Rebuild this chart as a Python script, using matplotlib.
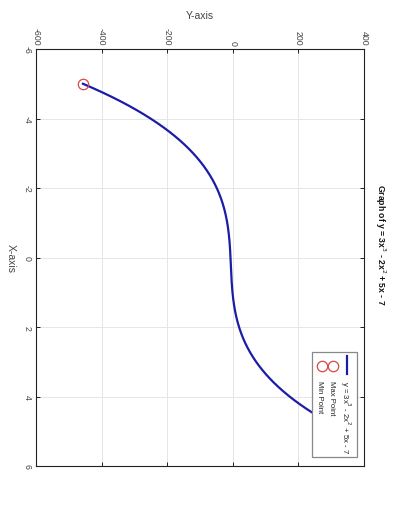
import numpy as np
import matplotlib
matplotlib.use("Agg")
import matplotlib.pyplot as plt
from matplotlib.patches import Rectangle
from matplotlib.lines import Line2D

plt.rcParams['font.family'] = ['Liberation Sans', 'DejaVu Sans']
plt.rcParams['axes.unicode_minus'] = False

# data
x_vals = np.linspace(-5, 5, 400)
coeffs = [3, -2, 5, -7]
y_vals = np.polyval(coeffs, x_vals)
max_x = [5.0]
max_y = [float(np.polyval(coeffs, 5.0))]
min_x = [-5.0]
min_y = [float(np.polyval(coeffs, -5.0))]
yticks = [-600, -400, -200, 0, 200, 400]
xticks = [-6, -4, -2, 0, 2, 4, 6]
title = "Graph of y = 3x$^3$ - 2x$^2$ + 5x - 7"
legend_labels = ["y = 3x$^3$ - 2x$^2$ + 5x - 7", "Max Point", "Min Point"]

W, H = 396, 506
fig = plt.figure(figsize=(W / 100, H / 100), dpi=100)

def fx(px):
    return px / W

def fy(py):
    return 1 - py / H

LINE_C = '#1c1ca8'
MARK_C = '#d84848'

L, R, T, B = 36, 364, 50, 467
ax = fig.add_axes([fx(L), fy(B), (R - L) / W, (B - T) / H])

# rotated view: horizontal = y value, vertical = x value (inverted)
ax.plot(y_vals, x_vals, color=LINE_C, lw=1.6, zorder=3)
ax.plot(max_y, max_x, 'o', mfc='none', mec=MARK_C, ms=7.5, mew=0.9, zorder=4)
ax.plot(min_y, min_x, 'o', mfc='none', mec=MARK_C, ms=7.5, mew=0.9, zorder=4)

ax.set_xlim(-600, 400)
ax.set_ylim(6, -6)
ax.set_xticks(yticks)
ax.set_yticks(xticks)
ax.grid(True, color='#e6e6e6', lw=0.7)
ax.set_axisbelow(True)
ax.tick_params(direction='in', top=True, bottom=True, left=True, right=True,
               labeltop=True, labelbottom=False, length=3, width=0.6,
               labelsize=6.3, labelcolor='#444444', pad=3)
for lab in ax.get_xticklabels():
    lab.set_rotation(-90)
for lab in ax.get_yticklabels():
    lab.set_rotation(-90)
    lab.set_va('center')
for s in ax.spines.values():
    s.set_linewidth(0.8)
    s.set_color('#222222')

fig.text(fx(200), fy(16), "Y-axis", ha='center', va='center', fontsize=7.5, color='#444444')
fig.text(fx(11), fy(258), "X-axis", ha='center', va='center', fontsize=7.5,
         rotation=-90, color='#444444')
fig.text(fx(380), fy(245), title, ha='center', va='center', fontsize=6.2,
         rotation=-90, fontweight='bold', color='#111111')

# manual rotated legend
lx0, lx1, ly0, ly1 = 312, 357, 353, 458
fig.patches.append(Rectangle((fx(lx0), fy(ly1)), (lx1 - lx0) / W, (ly1 - ly0) / H,
                             transform=fig.transFigure, facecolor='white',
                             edgecolor='#888888', lw=0.9, zorder=10))
fig.lines.append(Line2D([fx(347), fx(347)], [fy(357), fy(375)], transform=fig.transFigure,
                        color=LINE_C, lw=1.6, zorder=11))
fig.lines.append(Line2D([fx(333)], [fy(367)], transform=fig.transFigure, marker='o',
                        mfc='none', mec=MARK_C, ms=7.5, mew=0.9, zorder=11))
fig.lines.append(Line2D([fx(322)], [fy(367)], transform=fig.transFigure, marker='o',
                        mfc='none', mec=MARK_C, ms=7.5, mew=0.9, zorder=11))
for px, lab in zip([345, 332, 320], legend_labels):
    fig.text(fx(px), fy(381), lab, ha='center', va='top', fontsize=5.6, rotation=-90,
             color='#222222', zorder=12)

fig.savefig("out.png", dpi=100)
